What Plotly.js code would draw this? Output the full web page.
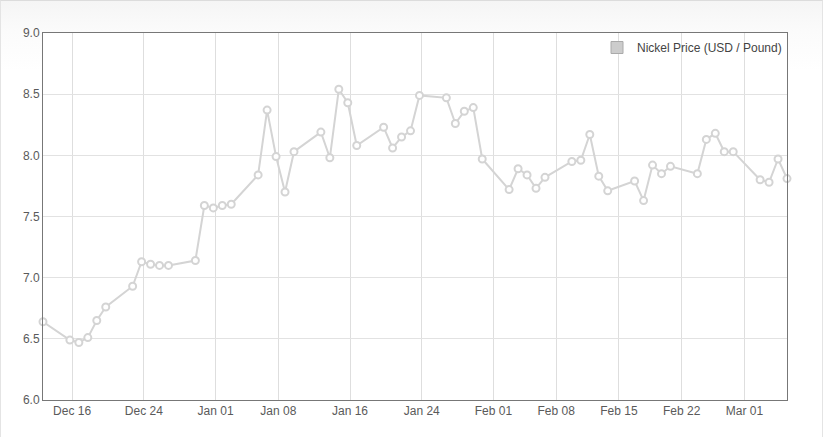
<!DOCTYPE html>
<html>
<head>
<meta charset="utf-8">
<script src="https://cdn.plot.ly/plotly-3.0.1.min.js"></script>
<style>
  html, body { margin: 0; padding: 0; background: #ffffff; }
  #bg { position: absolute; left: 0; top: 0; width: 823px; height: 437px; box-sizing: border-box;
        border-top: 1px solid #dcdcdc; border-left: 1px solid #e4e4e4; border-right: 1px solid #e4e4e4;
        background: linear-gradient(to bottom, #f5f5f5 0px, #fbfbfb 30px, #ffffff 70px); }
  #chart { position: absolute; left: 0; top: 0; width: 823px; height: 437px; }
</style>
</head>
<body>
<div id="bg"></div>
<div id="chart"></div>
<script>
// Data dates (UTC midnight) and nickel prices, USD / pound
const dates = [
  '2017-12-13','2017-12-16','2017-12-17','2017-12-18','2017-12-19','2017-12-20',
  '2017-12-23','2017-12-24','2017-12-25','2017-12-26','2017-12-27',
  '2017-12-30','2017-12-31','2018-01-01','2018-01-02','2018-01-03',
  '2018-01-06','2018-01-07','2018-01-08','2018-01-09','2018-01-10',
  '2018-01-13','2018-01-14','2018-01-15','2018-01-16','2018-01-17',
  '2018-01-20','2018-01-21','2018-01-22','2018-01-23','2018-01-24',
  '2018-01-27','2018-01-28','2018-01-29','2018-01-30','2018-01-31',
  '2018-02-03','2018-02-04','2018-02-05','2018-02-06','2018-02-07',
  '2018-02-10','2018-02-11','2018-02-12','2018-02-13','2018-02-14',
  '2018-02-17','2018-02-18','2018-02-19','2018-02-20','2018-02-21',
  '2018-02-24','2018-02-25','2018-02-26','2018-02-27','2018-02-28',
  '2018-03-03','2018-03-04','2018-03-05','2018-03-06'
];
const prices = [
  6.64, 6.49, 6.47, 6.51, 6.65, 6.76,
  6.93, 7.13, 7.11, 7.10, 7.10,
  7.14, 7.59, 7.57, 7.59, 7.60,
  7.84, 8.37, 7.99, 7.70, 8.03,
  8.19, 7.98, 8.54, 8.43, 8.08,
  8.23, 8.06, 8.15, 8.20, 8.49,
  8.47, 8.26, 8.36, 8.39, 7.97,
  7.72, 7.89, 7.84, 7.73, 7.82,
  7.95, 7.96, 8.17, 7.83, 7.71,
  7.79, 7.63, 7.92, 7.85, 7.91,
  7.85, 8.13, 8.18, 8.03, 8.03,
  7.80, 7.78, 7.97, 7.81
];
const tickDates = ['2017-12-16','2017-12-24','2018-01-01','2018-01-08','2018-01-16','2018-01-24',
                   '2018-02-01','2018-02-08','2018-02-15','2018-02-22','2018-03-01'];
const seriesName = 'Nickel Price (USD / Pound)';

// The original chart shows UTC dates in a UTC-6 local time zone
const tzOffsetHours = -6;
function toLocal(d) {
  const t = new Date(Date.parse(d + 'T00:00:00Z') + tzOffsetHours * 3600e3);
  const p = n => String(n).padStart(2, '0');
  return t.getUTCFullYear() + '-' + p(t.getUTCMonth() + 1) + '-' + p(t.getUTCDate()) + ' ' +
         p(t.getUTCHours()) + ':' + p(t.getUTCMinutes()) + ':00';
}
const xs = dates.map(toLocal);

const lineColor = '#d4d4d4';
const traces = [
  {
    x: xs, y: prices, type: 'scatter', mode: 'lines+markers', name: seriesName,
    showlegend: false,
    line: { color: lineColor, width: 2 },
    marker: { symbol: 'circle', size: 7, color: '#ffffff', line: { color: lineColor, width: 2 } },
    cliponaxis: false
  },
  {
    x: [null], y: [null], type: 'scatter', mode: 'markers', name: seriesName,
    marker: { symbol: 'square', size: 12, color: '#cccccc', line: { color: '#aaaaaa', width: 1 } },
    hoverinfo: 'skip'
  }
];

const tickFont = { family: 'Liberation Sans, Arial, sans-serif', size: 12, color: '#5a5a5a' };
const layout = {
  width: 823, height: 437,
  margin: { l: 43, r: 36, t: 33, b: 37, pad: 0 },
  paper_bgcolor: 'rgba(0,0,0,0)',
  plot_bgcolor: '#ffffff',
  font: tickFont,
  showlegend: true,
  legend: {
    x: 1, xanchor: 'right', y: 1, yanchor: 'top',
    bgcolor: 'rgba(0,0,0,0)', borderwidth: 0,
    font: { family: 'Liberation Sans, Arial, sans-serif', size: 12, color: '#444444' },
    itemwidth: 30
  },
  xaxis: {
    type: 'date',
    range: [xs[0], xs[xs.length - 1]],
    tickvals: tickDates,
    tickformat: '%b %d',
    ticks: '',
    showgrid: true, gridcolor: '#dedede', gridwidth: 1,
    showline: true, linecolor: '#777777', linewidth: 1, mirror: true,
    zeroline: false,
    tickfont: tickFont
  },
  yaxis: {
    range: [6, 9],
    dtick: 0.5, tick0: 6,
    tickformat: '.1f',
    ticks: '',
    showgrid: true, gridcolor: '#e2e2e2', gridwidth: 1,
    showline: true, linecolor: '#777777', linewidth: 1, mirror: true,
    zeroline: false,
    tickfont: tickFont
  }
};

Plotly.newPlot('chart', traces, layout, { displayModeBar: false, staticPlot: true });
</script>
</body>
</html>
